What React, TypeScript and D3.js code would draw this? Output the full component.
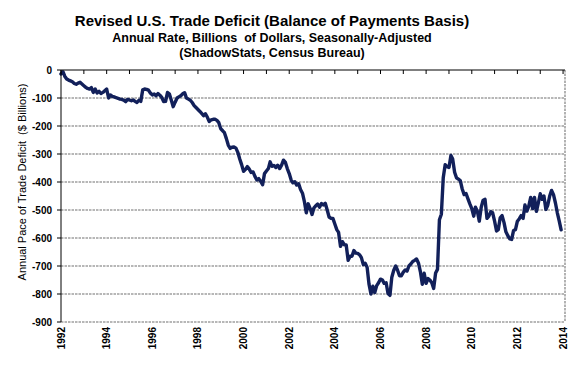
import React from "react";
import * as d3 from "d3";

// Monthly revised U.S. trade deficit, annual rate, $ billions, starting Jan 1992
const startYear = 1992;
const deficit: number[] = [
  // 1992
  -14, -6, -22, -32, -36, -39, -42, -48, -51, -47, -44, -50,
  // 1993
  -56, -62, -66, -68, -63, -80, -68, -82, -76, -84, -80, -74,
  // 1994
  -68, -100, -89, -94, -96, -99, -101, -104, -105, -108, -113, -105,
  // 1995
  -107, -110, -107, -112, -116, -108, -112, -71, -68, -69, -72, -82,
  // 1996
  -89, -86, -92, -84, -90, -98, -113, -112, -80, -86, -108, -131,
  // 1997
  -115, -100, -96, -92, -85, -81, -100, -104, -108, -116, -127, -134,
  // 1998
  -141, -148, -155, -163, -156, -169, -184, -178, -176, -176, -180, -188,
  // 1999
  -210, -217, -224, -245, -268, -280, -276, -275, -279, -294, -318, -338,
  // 2000
  -362, -355, -345, -354, -366, -364, -380, -393, -388, -397, -410, -370,
  // 2001
  -361, -352, -328, -344, -341, -348, -340, -352, -340, -322, -330, -352,
  // 2002
  -370, -393, -403, -399, -411, -406, -427, -440, -470, -510, -478, -494,
  // 2003
  -516, -492, -485, -479, -490, -477, -482, -476, -500, -525, -530, -530,
  // 2004
  -550, -570, -580, -630, -613, -624, -625, -680, -665, -665, -645, -654,
  // 2005
  -655, -660, -670, -695, -690, -705, -765, -800, -772, -795, -770, -760,
  // 2006
  -747, -750, -762, -760, -798, -805, -740, -715, -700, -715, -735, -735,
  // 2007
  -722, -714, -718, -700, -693, -684, -680, -675, -690, -720, -765, -726,
  // 2008
  -762, -745, -750, -760, -780, -725, -712, -535, -515, -385, -338, -345,
  // 2009
  -348, -305, -318, -365, -385, -390, -395, -425, -445, -441, -460, -478,
  // 2010
  -495, -522, -490, -505, -540, -490, -465, -462, -530, -522, -506, -510,
  // 2011
  -540, -575, -570, -528, -520, -545, -578, -592, -603, -605, -573, -570,
  // 2012
  -540, -531, -520, -530, -482, -504, -486, -455, -495, -455, -505, -475,
  // 2013
  -442, -462, -450, -498, -483, -450, -430, -445, -475, -510, -540, -571,
];

const yTicks: number[] = [0, -100, -200, -300, -400, -500, -600, -700, -800, -900];
const xLabelYears: number[] = [1992, 1994, 1996, 1998, 2000, 2002, 2004, 2006, 2008, 2010, 2012, 2014];
const xTickYears: number[] = d3.range(1992, 2015);

const titleLines: string[] = [
  "Revised U.S. Trade Deficit (Balance of Payments Basis)",
  "Annual Rate, Billions  of Dollars, Seasonally-Adjusted",
  "(ShadowStats, Census Bureau)",
];
const yAxisTitle = "Annual Pace of Trade Deficit  ($ Billions)";

export default function App() {
  const W = 575;
  const H = 379;
  const left = 61;
  const right = 565;
  const top = 70;
  const bottom = 322;

  const x = d3
    .scaleTime()
    .domain([new Date(1992, 0, 1), new Date(2014, 1, 1)])
    .range([left, right]);
  const y = d3.scaleLinear().domain([-900, 0]).range([bottom, top]);

  const pts = deficit.map((v, i) => ({ date: new Date(startYear, i, 1), v }));
  const line = d3
    .line<{ date: Date; v: number }>()
    .x((d) => x(d.date))
    .y((d) => y(d.v));

  const font = "'Liberation Sans', Arial, sans-serif";
  const cx = 272;

  return (
    <svg
      width={W}
      height={H}
      style={{ position: "absolute", left: 0, top: 0, background: "#fff" }}
      fontFamily={font}
    >
      <rect x={0} y={0} width={W} height={H} fill="#fff" />
      <text x={cx} y={26} textAnchor="middle" fontWeight="bold" fontSize={15}>
        {titleLines[0]}
      </text>
      <text x={cx} y={42} textAnchor="middle" fontWeight="bold" fontSize={12.5} style={{ whiteSpace: "pre" }}>
        {titleLines[1]}
      </text>
      <text x={cx} y={57} textAnchor="middle" fontWeight="bold" fontSize={12.5}>
        {titleLines[2]}
      </text>

      {/* gridlines */}
      {yTicks
        .filter((t) => t !== 0)
        .map((t) => (
          <line
            key={"g" + t}
            x1={left}
            x2={right}
            y1={y(t)}
            y2={y(t)}
            stroke="#a0a0a0"
            strokeWidth={1.6}
            strokeDasharray="2.5 1"
          />
        ))}
      {/* right border */}
      <line x1={right} x2={right} y1={top} y2={bottom} stroke="#a0a0a0" strokeWidth={1.6} strokeDasharray="2.5 1" />

      {/* data line */}
      <path
        d={line(pts) || ""}
        fill="none"
        stroke="#12205a"
        strokeWidth={3.4}
        strokeLinejoin="round"
        strokeLinecap="round"
      />

      {/* y axis */}
      <line x1={left} x2={left} y1={top} y2={bottom} stroke="#000" strokeWidth={1} />
      {yTicks.map((t) => (
        <g key={"y" + t}>
          <line x1={left - 4} x2={left} y1={y(t)} y2={y(t)} stroke="#000" />
          <text
            x={left - 9}
            y={y(t)}
            dy="0.35em"
            textAnchor="end"
            fontWeight="bold"
            fontSize={10}
          >
            {t}
          </text>
        </g>
      ))}

      {/* x axis at zero */}
      <line x1={left} x2={right} y1={y(0)} y2={y(0)} stroke="#000" strokeWidth={1} />
      {xTickYears.map((yr) => {
        const px = x(new Date(yr, 0, 1));
        return <line key={"xt" + yr} x1={px} x2={px} y1={y(0)} y2={y(0) + 4} stroke="#000" />;
      })}
      {xLabelYears.map((yr) => {
        const px = x(new Date(yr, 0, 1));
        const py = bottom + 5;
        return (
          <text
            key={"xl" + yr}
            transform={`translate(${px},${py}) rotate(-90)`}
            dy="0.35em"
            textAnchor="end"
            fontWeight="bold"
            fontSize={10}
          >
            {yr}
          </text>
        );
      })}

      <text
        transform={`translate(26,182) rotate(-90)`}
        textAnchor="middle"
        fontSize={11}
        style={{ whiteSpace: "pre" }}
      >
        {yAxisTitle}
      </text>
    </svg>
  );
}
